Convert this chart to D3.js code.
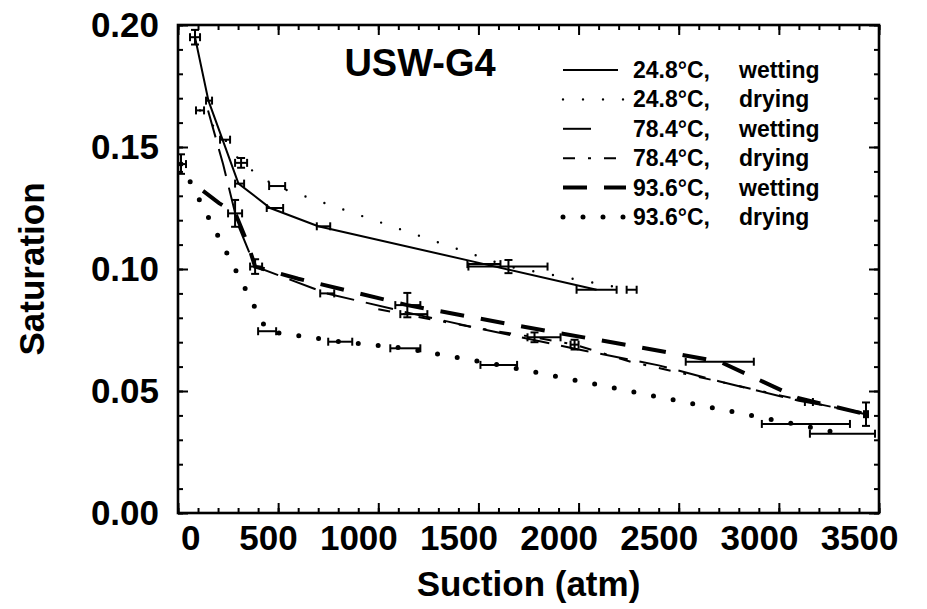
<!DOCTYPE html>
<html>
<head>
<meta charset="utf-8">
<script src="https://cdn.jsdelivr.net/npm/d3@7"></script>
<style>
  html, body { margin: 0; padding: 0; background: #fff; }
  svg { display: block; }
  text { font-family: "Liberation Sans", Arial, Helvetica, sans-serif; font-weight: bold; fill: #000; }
</style>
</head>
<body>
<svg id="chart" width="927" height="609"></svg>
<script>
// ---- data -------------------------------------------------------------
const seriesLabels = ["24.8°C,", "24.8°C,", "78.4°C,", "78.4°C,", "93.6°C,", "93.6°C,"];
const seriesModes  = ["wetting", "drying", "wetting", "drying", "wetting", "drying"];

// suction (atm) and saturation of each curve
const wet248Suction = [85, 152, 302, 460, 700, 1530, 2090];
const wet248Sat     = [0.195, 0.169, 0.135, 0.125, 0.1175, 0.102, 0.0915];

const dry248Suction = [110, 235, 315, 485, 1650, 2260];
const dry248Sat     = [0.165, 0.153, 0.1435, 0.134, 0.101, 0.0915];

const wet784Suction = [150, 225, 300, 385, 743, 1180, 1500, 2000, 2400, 2700, 3100, 3435];
const wet784Sat     = [0.165, 0.143, 0.118, 0.101, 0.090, 0.0815, 0.0757, 0.067, 0.0605, 0.054, 0.046, 0.041];

const dry784Suction = [1000, 1500, 1780, 1980, 2260, 2750, 3150, 3435];
const dry784Sat     = [0.0835, 0.0757, 0.072, 0.069, 0.062, 0.053, 0.0455, 0.0405];

const wet936Suction = [125, 205, 285, 350, 385, 600, 1145, 1700, 2300, 2705, 3100, 3460];
const wet936Sat     = [0.132, 0.127, 0.123, 0.110, 0.101, 0.096, 0.0852, 0.0767, 0.068, 0.062, 0.047, 0.040];

const dry936Suction = [15, 445, 810, 1135, 1600, 3075, 3320];
const dry936Sat     = [0.143, 0.0745, 0.0702, 0.0675, 0.0607, 0.0365, 0.0325];

// error bars: centre, suction range, saturation half-range (0 = none)
const barSuction   = [85, 152, 302, 460, 700, 1530, 2090,
                      110, 235, 315, 485, 1650, 2260,
                      385, 743, 1180, 1780, 1980, 3150, 3435,
                      285, 1145, 2705,
                      15, 445, 810, 1135, 1600, 3075, 3320];
const barSat       = [0.195, 0.169, 0.135, 0.125, 0.1175, 0.102, 0.0915,
                      0.165, 0.153, 0.1435, 0.134, 0.101, 0.0915,
                      0.101, 0.090, 0.0815, 0.072, 0.069, 0.0455, 0.0405,
                      0.1228, 0.0852, 0.062,
                      0.143, 0.0745, 0.0702, 0.0675, 0.0607, 0.0365, 0.0325];
const barSuctionLo = [60, 140, 285, 443, 693, 1445, 1990,
                      90, 210, 285, 455, 1450, 2240,
                      360, 710, 1110, 1745, 1960, 3130, 3425,
                      250, 1085, 2535,
                      0, 400, 750, 1060, 1510, 2915, 3155];
const barSuctionHi = [110, 170, 330, 525, 760, 1610, 2190,
                      130, 260, 345, 535, 1845, 2290,
                      420, 780, 1245, 1910, 2000, 3170, 3445,
                      320, 1210, 2875,
                      40, 490, 870, 1210, 1693, 3355, 3480];
const barSatHalf   = [0.003, 0, 0, 0, 0, 0, 0,
                      0, 0, 0.002, 0, 0.0027, 0,
                      0.003, 0, 0, 0.002, 0.002, 0, 0.0048,
                      0.0055, 0.005, 0,
                      0.004, 0, 0, 0, 0, 0, 0];

const xTicks = [0, 500, 1000, 1500, 2000, 2500, 3000, 3500];
const yTicks = [0.00, 0.05, 0.10, 0.15, 0.20];

// ---- layout -----------------------------------------------------------
const svg = d3.select("#chart");
const plotLeft = 178, plotRight = 879, plotTop = 25, plotBottom = 513;
const x = d3.scaleLinear().domain([0, 3500]).range([plotLeft, plotRight]);
const y = d3.scaleLinear().domain([0, 0.2]).range([plotBottom, plotTop]);

// curve styles (legend samples have their own drawn length)
const styles = [
  { width: 2,   dash: null,          cap: "butt",  sample: 55 },
  { width: 2.4, dash: "0,20",        cap: "round", sample: 65 },
  { width: 2,   dash: "28,12",       cap: "butt",  sample: 28 },
  { width: 2,   dash: "12,13,3,13",  cap: "butt",  sample: 53 },
  { width: 4,   dash: "24,17",       cap: "butt",  sample: 63 },
  { width: 5,   dash: "0,20",        cap: "round", sample: 65 }
];
const curves = [
  [wet248Suction, wet248Sat], [dry248Suction, dry248Sat],
  [wet784Suction, wet784Sat], [dry784Suction, dry784Sat],
  [wet936Suction, wet936Sat], [dry936Suction, dry936Sat]
];

// ---- axes: inward ticks on all four sides -----------------------------
const minorX = d3.range(0, 3501, 100);
const minorY = d3.range(0, 0.2001, 0.01);

function styleAxis(g) {
  g.select(".domain").remove();
  g.selectAll(".tick line").attr("stroke", "#000").attr("stroke-width", 2);
}

svg.append("g").attr("transform", `translate(0,${plotBottom})`)
  .call(d3.axisBottom(x).tickValues(minorX).tickSize(-5).tickFormat(""))
  .call(styleAxis);
svg.append("g").attr("transform", `translate(0,${plotTop})`)
  .call(d3.axisTop(x).tickValues(minorX).tickSize(-5).tickFormat(""))
  .call(styleAxis);
svg.append("g").attr("transform", `translate(${plotLeft},0)`)
  .call(d3.axisLeft(y).tickValues(minorY).tickSize(-5).tickFormat(""))
  .call(styleAxis);
svg.append("g").attr("transform", `translate(${plotRight},0)`)
  .call(d3.axisRight(y).tickValues(minorY).tickSize(-5).tickFormat(""))
  .call(styleAxis);

const xAxis = svg.append("g").attr("transform", `translate(0,${plotBottom})`)
  .call(d3.axisBottom(x).tickValues(xTicks).tickSize(-10).tickPadding(12).tickFormat(d3.format("d")))
  .call(styleAxis);
xAxis.selectAll(".tick text")
  .attr("text-anchor", "end").attr("dx", d => d === 0 ? 22 : 19)
  .style("font-size", "35px");

svg.append("g").attr("transform", `translate(0,${plotTop})`)
  .call(d3.axisTop(x).tickValues(xTicks).tickSize(-10).tickFormat(""))
  .call(styleAxis);

const yAxis = svg.append("g").attr("transform", `translate(${plotLeft},0)`)
  .call(d3.axisLeft(y).tickValues(yTicks).tickSize(-10).tickPadding(19).tickFormat(d3.format(".2f")))
  .call(styleAxis);
yAxis.selectAll(".tick text").style("font-size", "35px");

svg.append("g").attr("transform", `translate(${plotRight},0)`)
  .call(d3.axisRight(y).tickValues(yTicks).tickSize(-10).tickFormat(""))
  .call(styleAxis);

// frame
svg.append("rect")
  .attr("x", plotLeft).attr("y", plotTop)
  .attr("width", plotRight - plotLeft).attr("height", plotBottom - plotTop)
  .attr("fill", "none").attr("stroke", "#000").attr("stroke-width", 2.6);

// ---- curves -----------------------------------------------------------
const line = d3.line().x(d => x(d[0])).y(d => y(d[1]));
curves.forEach(([xs, ys], i) => {
  const st = styles[i];
  svg.append("path")
    .datum(xs.map((v, k) => [v, ys[k]]))
    .attr("d", line)
    .attr("fill", "none").attr("stroke", "#000")
    .attr("stroke-width", st.width)
    .attr("stroke-linecap", st.cap)
    .attr("stroke-dasharray", st.dash);
});

// ---- error bars -------------------------------------------------------
const bars = svg.append("g").attr("stroke", "#000").attr("stroke-width", 2);
barSuction.forEach((v, k) => {
  const cy = y(barSat[k]);
  const x0 = x(barSuctionLo[k]), x1 = x(barSuctionHi[k]);
  bars.append("line").attr("x1", x0).attr("x2", x1).attr("y1", cy).attr("y2", cy);
  bars.append("line").attr("x1", x0).attr("x2", x0).attr("y1", cy - 4).attr("y2", cy + 4);
  bars.append("line").attr("x1", x1).attr("x2", x1).attr("y1", cy - 4).attr("y2", cy + 4);
  if (barSatHalf[k] > 0) {
    const cx = x(v);
    const y0 = y(barSat[k] - barSatHalf[k]), y1 = y(barSat[k] + barSatHalf[k]);
    bars.append("line").attr("x1", cx).attr("x2", cx).attr("y1", y0).attr("y2", y1);
    bars.append("line").attr("x1", cx - 4).attr("x2", cx + 4).attr("y1", y0).attr("y2", y0);
    bars.append("line").attr("x1", cx - 4).attr("x2", cx + 4).attr("y1", y1).attr("y2", y1);
  }
});

// ---- title, legend, axis titles ---------------------------------------
svg.append("text").attr("x", 420).attr("y", 76)
  .attr("text-anchor", "middle").style("font-size", "38px").text("USW-G4");

const legend = svg.append("g");
seriesLabels.forEach((lab, i) => {
  const cy = 70 + i * 29.4;
  const st = styles[i];
  legend.append("line")
    .attr("x1", 563).attr("x2", 563 + st.sample).attr("y1", cy).attr("y2", cy)
    .attr("stroke", "#000").attr("stroke-width", st.width)
    .attr("stroke-linecap", st.cap).attr("stroke-dasharray", st.dash);
  legend.append("text").attr("x", 633).attr("y", cy).attr("dy", "0.35em")
    .style("font-size", "23px").text(lab);
  legend.append("text").attr("x", 739).attr("y", cy).attr("dy", "0.35em")
    .style("font-size", "23px").text(seriesModes[i]);
});

svg.append("text")
  .attr("transform", `translate(44,${(plotTop + plotBottom) / 2}) rotate(-90)`)
  .attr("text-anchor", "middle").style("font-size", "35px").text("Saturation");

svg.append("text").attr("x", (plotLeft + plotRight) / 2).attr("y", 596)
  .attr("text-anchor", "middle").style("font-size", "35px").text("Suction (atm)");
</script>
</body>
</html>
